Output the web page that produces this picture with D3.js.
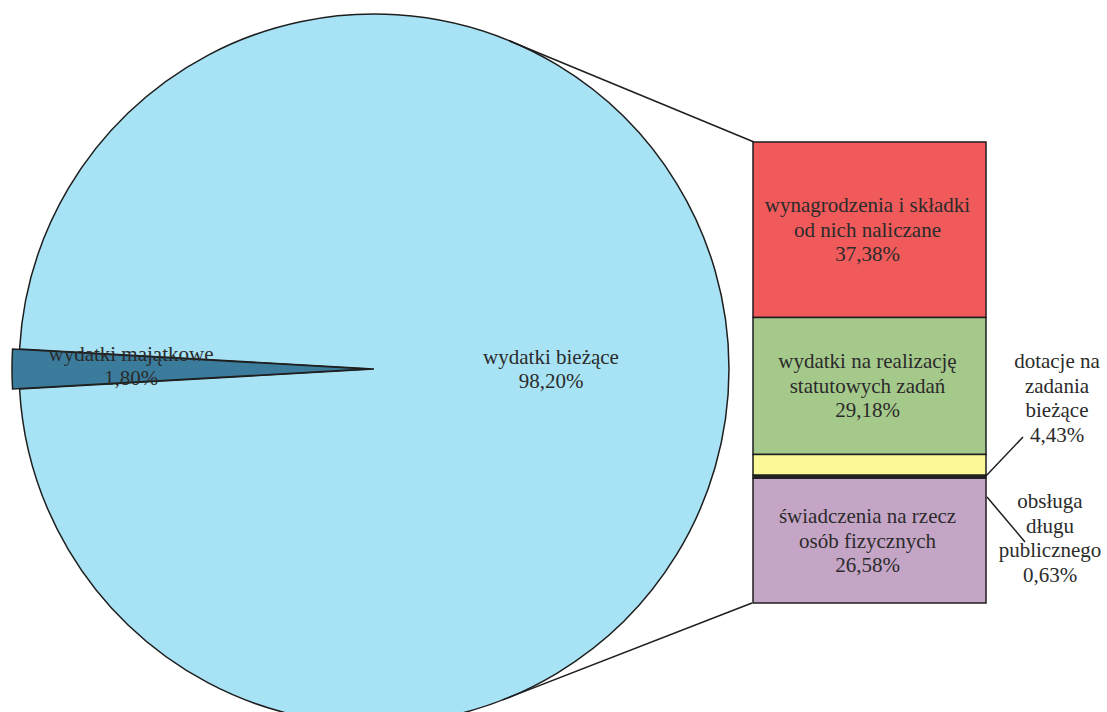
<!DOCTYPE html>
<html>
<head>
<meta charset="utf-8">
<script src="https://cdn.jsdelivr.net/npm/d3@7"></script>
<style>
html,body{margin:0;padding:0;background:#fff;}
svg{display:block;}
text{font-family:"Liberation Serif","Times New Roman",serif;fill:#2b2b2b;}
</style>
</head>
<body>
<svg id="chart" width="1107" height="712"></svg>
<script>
// ---- data ----
const pieLabels = [["wydatki majątkowe", "1,80%"], ["wydatki bieżące", "98,20%"]];
const pieValues = [1.80, 98.20];
const pieColors = ["#3b7c9c", "#a8e3f5"];

const barLabels = [
  ["wynagrodzenia i składki", "od nich naliczane", "37,38%"],
  ["wydatki na realizację", "statutowych zadań", "29,18%"],
  ["dotacje na", "zadania", "bieżące", "4,43%"],
  ["obsługa", "długu", "publicznego", "0,63%"],
  ["świadczenia na rzecz", "osób fizycznych", "26,58%"]
];
const barValues = [37.38, 29.18, 4.43, 0.63, 26.58];
const barColors = ["#f05a5a", "#a5c98b", "#faf897", "#262626", "#c5a5c6"];
const outsideLabel = [false, false, true, true, false];

// ---- layout ----
const svg = d3.select("#chart");
const cx = 374, cy = 369, R = 355;
const fs = 21, lh = 24.5;
const stroke = "#1e1e1e";

// pie
const total = d3.sum(pieValues);
const smallAngle = pieValues[0] / total * 2 * Math.PI;
const start = -Math.PI / 2 - smallAngle / 2;
const pie = d3.pie().sort(null).startAngle(start).endAngle(start + 2 * Math.PI);
const arcs = pie(pieValues);
const arc = d3.arc().innerRadius(0).outerRadius(R);
const explode = 7;

const g = svg.append("g");
arcs.slice().reverse().forEach(a => {
  const i = a.index;
  const mid = (a.startAngle + a.endAngle) / 2;
  const dx = i === 0 ? Math.sin(mid) * explode : 0;
  const dy = i === 0 ? -Math.cos(mid) * explode : 0;
  g.append("path")
    .attr("d", arc(a))
    .attr("transform", `translate(${cx + dx},${cy + dy})`)
    .attr("fill", pieColors[i])
    .attr("stroke", stroke)
    .attr("stroke-width", 1.5)
    .attr("stroke-linejoin", "miter");
});

// pie labels
const pieLabelPos = [[-243, -3], [177, 0]];
arcs.forEach(a => {
  const i = a.index;
  const lines = pieLabels[i];
  const t = svg.append("text")
    .attr("text-anchor", "middle")
    .attr("font-size", fs);
  lines.forEach((s, k) => {
    t.append("tspan")
      .attr("x", cx + pieLabelPos[i][0])
      .attr("y", cy + pieLabelPos[i][1] + 7 + (k - (lines.length - 1) / 2) * lh)
      .text(s);
  });
});

// bar
const barX0 = 753, barX1 = 986;
const y = d3.scaleLinear().domain([0, d3.sum(barValues)]).range([142, 603]);
let cum = 0;
const segs = barValues.map((v, i) => {
  const s = { i, y0: y(cum), y1: y(cum + v) };
  cum += v;
  return s;
});

// connector lines (tangent from bar corners to the pie)
function tangent(px, py, sign) {
  const dx = px - cx, dy = py - cy;
  const d = Math.hypot(dx, dy);
  const base = Math.atan2(dy, dx);
  const off = Math.acos(R / d);
  const ang = base + sign * off;
  return [cx + R * Math.cos(ang), cy + R * Math.sin(ang)];
}
const tTop = tangent(barX0 + 1, y(0), -1);
const tBot = tangent(barX0 - 1, y(d3.sum(barValues)), 1);
svg.append("line").attr("x1", tTop[0]).attr("y1", tTop[1]).attr("x2", barX0 + 1).attr("y2", y(0))
  .attr("stroke", stroke).attr("stroke-width", 1.5);
svg.append("line").attr("x1", tBot[0]).attr("y1", tBot[1]).attr("x2", barX0 - 1).attr("y2", y(d3.sum(barValues)))
  .attr("stroke", stroke).attr("stroke-width", 1.5);

segs.forEach(s => {
  svg.append("rect")
    .attr("x", barX0).attr("y", s.y0)
    .attr("width", barX1 - barX0).attr("height", s.y1 - s.y0)
    .attr("fill", barColors[s.i])
    .attr("stroke", stroke).attr("stroke-width", 1.5);
});

// inside labels
segs.forEach(s => {
  if (outsideLabel[s.i]) return;
  const lines = barLabels[s.i];
  const mid = (s.y0 + s.y1) / 2;
  const t = svg.append("text").attr("text-anchor", "middle").attr("font-size", fs);
  lines.forEach((str, k) => {
    t.append("tspan")
      .attr("x", (barX0 + barX1) / 2 - 2)
      .attr("y", mid + 7 + (k - (lines.length - 1) / 2) * lh)
      .text(str);
  });
});

// outside labels with leader lines
const outside = [
  { i: 2, x: 1057, yFirst: 368, lx1: 1023, ly1: 437, lx2: barX1 - 1, ly2: 477 },
  { i: 3, x: 1050, yFirst: 508, lx1: barX1 + 1, ly1: 497, lx2: 1025, ly2: 542 }
];
outside.forEach(o => {
  svg.append("line").attr("x1", o.lx1).attr("y1", o.ly1).attr("x2", o.lx2).attr("y2", o.ly2)
    .attr("stroke", stroke).attr("stroke-width", 1.5);
  const t = svg.append("text").attr("text-anchor", "middle").attr("font-size", fs);
  barLabels[o.i].forEach((str, k) => {
    t.append("tspan").attr("x", o.x).attr("y", o.yFirst + k * lh).text(str);
  });
});
</script>
</body>
</html>
